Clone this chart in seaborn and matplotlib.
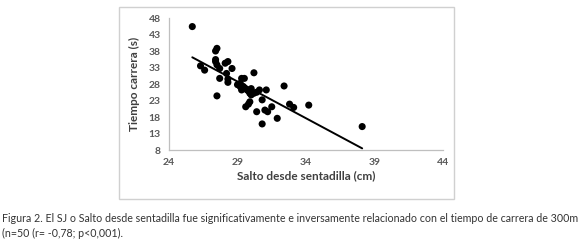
import matplotlib
matplotlib.use("Agg")
import matplotlib.pyplot as plt
import seaborn as sns
import pandas as pd
from matplotlib.patches import Rectangle

# Data (approximate)
salto_cm = [25.7, 26.3, 26.6, 27.4, 27.5, 27.4, 27.5, 27.7, 27.7, 27.5,
            28.2, 28.3, 28.1, 28.3, 28.6, 29.3, 29.5, 29.2, 29.3, 29.5,
            29.7, 29.8, 29.9, 30.2, 30.2, 29.6, 29.8, 29.9, 30.6, 30.8,
            31.1, 30.4, 30.8, 31.0, 31.2, 31.5, 31.9, 32.4, 32.8, 33.1,
            34.2, 38.1, 29.2, 29.4, 30.0, 30.0, 28.3, 27.4, 29.0, 30.4]
tiempo_s = [45.4, 33.5, 32.2, 38.0, 38.8, 34.8, 33.8, 32.7, 29.7, 24.4,
            31.2, 28.5, 34.3, 34.8, 32.7, 29.7, 29.7, 27.2, 26.2, 26.9,
            26.2, 25.9, 25.2, 25.2, 31.4, 21.1, 21.9, 22.6, 26.2, 23.2,
            26.2, 19.6, 15.9, 20.1, 19.6, 21.1, 17.6, 27.4, 21.9, 20.9,
            21.6, 15.1, 28.2, 27.3, 26.6, 24.7, 29.5, 35.4, 27.8, 25.5]
x_ticks = [24, 29, 34, 39, 44]
y_ticks = [8, 13, 18, 23, 28, 33, 38, 43, 48]
x_label = "Salto desde sentadilla (cm)"
y_label = "Tiempo carrera (s)"
caption_1 = ("Figura 2. El SJ o Salto desde sentadilla fue significativamente e "
             "inversamente relacionado con el tiempo de carrera de 300m")
caption_2 = "(n=50 (r= -0,78; p<0,001)."

df = pd.DataFrame({"salto": salto_cm, "tiempo": tiempo_s})

sns.set_theme(style="white")
plt.rcParams["font.family"] = ["Lato", "DejaVu Sans"]

W, H = 580, 245
fig = plt.figure(figsize=(W / 100, H / 100), dpi=100)
fig.patch.set_facecolor("white")

# outer chart frame
fig.patches.append(Rectangle((119 / W, 1 - 199 / H), (454 - 119) / W, (199 - 7) / H,
                             transform=fig.transFigure, fill=False,
                             edgecolor="#d0d0d0", linewidth=1.0))

ax = fig.add_axes([169 / W, 1 - 150 / H, (443 - 169) / W, (150 - 18) / H])
sns.regplot(data=df, x="salto", y="tiempo", ax=ax, ci=None, truncate=True,
            scatter_kws=dict(s=26, color="black", edgecolor="none", alpha=1),
            line_kws=dict(color="black", linewidth=1.4))

ax.set_xlim(24, 44)
ax.set_ylim(8, 48)
ax.set_xticks(x_ticks)
ax.set_yticks(y_ticks)
ax.tick_params(axis="both", labelsize=7.5, colors="#595959", length=0, pad=6)
for lbl in ax.get_xticklabels() + ax.get_yticklabels():
    lbl.set_fontweight("bold")
ax.set_xlabel(x_label, fontsize=8.5, fontweight="bold", color="#404040", labelpad=2)
ax.set_ylabel(y_label, fontsize=8.5, fontweight="bold", color="#404040", labelpad=6)
for side in ["top", "right"]:
    ax.spines[side].set_visible(False)
for side in ["left", "bottom"]:
    ax.spines[side].set_color("#bfbfbf")
    ax.spines[side].set_linewidth(0.9)
ax.set_facecolor("white")

t1 = fig.text(2 / W, 1 - 218 / H, caption_1, fontsize=8.3, color="#333333", va="center", ha="left")
t2 = fig.text(2 / W, 1 - 233 / H, caption_2, fontsize=8.3, color="#333333", va="center", ha="left")

# fit caption line 1 to the width of the reference (about 574 px)
renderer = fig.canvas.get_renderer()
w1 = t1.get_window_extent(renderer).width
size = 8.3 * 574 / w1
t1.set_fontsize(size)
t2.set_fontsize(size)

fig.savefig("out.png", dpi=100, facecolor="white")
